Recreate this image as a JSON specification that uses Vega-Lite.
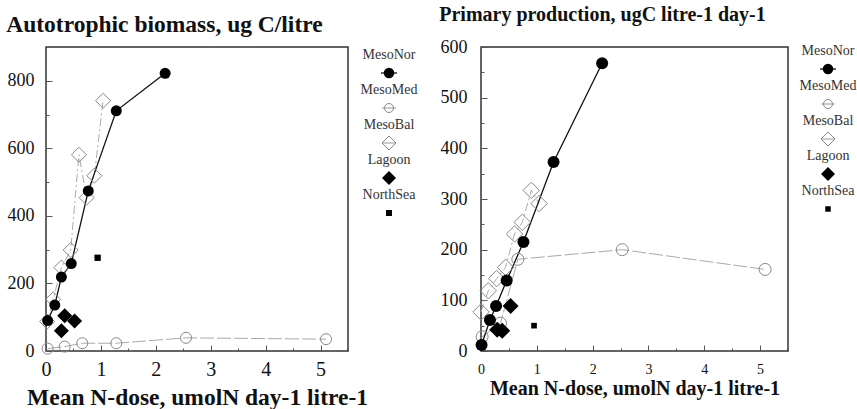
{
  "$schema": "https://vega.github.io/schema/vega-lite/v6.json",
  "background": "white",
  "padding": {"left": 6, "top": 5, "right": 0, "bottom": 0},
  "autosize": {"type": "pad"},
  "config": {
    "font": "Liberation Serif",
    "view": {"stroke": "#333", "strokeWidth": 1.5},
    "axis": {"domain": false, "grid": false, "tickColor": "#555", "labelColor": "#111", "titleColor": "#111", "labelFont": "Liberation Serif", "titleFont": "Liberation Serif", "titleFontWeight": "bold"},
    "title": {"font": "Liberation Serif", "fontWeight": "bold", "color": "#111", "anchor": "start", "frame": "bounds"}
  },
  "datasets": {
    "biomass": [
      {"series": "MesoBal", "dose": 0.02, "value": 87},
      {"series": "MesoBal", "dose": 0.13, "value": 153},
      {"series": "MesoBal", "dose": 0.28, "value": 247},
      {"series": "MesoBal", "dose": 0.45, "value": 299},
      {"series": "MesoBal", "dose": 0.6, "value": 581},
      {"series": "MesoBal", "dose": 0.74, "value": 454},
      {"series": "MesoBal", "dose": 0.88, "value": 519},
      {"series": "MesoBal", "dose": 1.04, "value": 741},
      {"series": "MesoMed", "dose": 0.03, "value": 7},
      {"series": "MesoMed", "dose": 0.34, "value": 13},
      {"series": "MesoMed", "dose": 0.66, "value": 23},
      {"series": "MesoMed", "dose": 1.28, "value": 23},
      {"series": "MesoMed", "dose": 2.55, "value": 39},
      {"series": "MesoMed", "dose": 5.1, "value": 35},
      {"series": "MesoNor", "dose": 0.03, "value": 90},
      {"series": "MesoNor", "dose": 0.16, "value": 136},
      {"series": "MesoNor", "dose": 0.28, "value": 219},
      {"series": "MesoNor", "dose": 0.46, "value": 259},
      {"series": "MesoNor", "dose": 0.77, "value": 474},
      {"series": "MesoNor", "dose": 1.28, "value": 711},
      {"series": "MesoNor", "dose": 2.17, "value": 822},
      {"series": "Lagoon", "dose": 0.28, "value": 60},
      {"series": "Lagoon", "dose": 0.34, "value": 104},
      {"series": "Lagoon", "dose": 0.52, "value": 89},
      {"series": "NorthSea", "dose": 0.94, "value": 276}
    ],
    "production": [
      {"series": "MesoBal", "dose": 0.0, "value": 77},
      {"series": "MesoBal", "dose": 0.13, "value": 119},
      {"series": "MesoBal", "dose": 0.28, "value": 143},
      {"series": "MesoBal", "dose": 0.44, "value": 165},
      {"series": "MesoBal", "dose": 0.6, "value": 231},
      {"series": "MesoBal", "dose": 0.74, "value": 254},
      {"series": "MesoBal", "dose": 0.9, "value": 317},
      {"series": "MesoBal", "dose": 1.04, "value": 291},
      {"series": "MesoMed", "dose": 0.02, "value": 28},
      {"series": "MesoMed", "dose": 0.35, "value": 55},
      {"series": "MesoMed", "dose": 0.66, "value": 181},
      {"series": "MesoMed", "dose": 2.53, "value": 200},
      {"series": "MesoMed", "dose": 5.09, "value": 161},
      {"series": "MesoNor", "dose": 0.01, "value": 12},
      {"series": "MesoNor", "dose": 0.16, "value": 61},
      {"series": "MesoNor", "dose": 0.27, "value": 89},
      {"series": "MesoNor", "dose": 0.46, "value": 139},
      {"series": "MesoNor", "dose": 0.76, "value": 215},
      {"series": "MesoNor", "dose": 1.3, "value": 373},
      {"series": "MesoNor", "dose": 2.17, "value": 568},
      {"series": "Lagoon", "dose": 0.29, "value": 42},
      {"series": "Lagoon", "dose": 0.38, "value": 40},
      {"series": "Lagoon", "dose": 0.53, "value": 89},
      {"series": "NorthSea", "dose": 0.95, "value": 50}
    ],
    "keys": [
      {"series": "MesoNor"},
      {"series": "MesoMed"},
      {"series": "MesoBal"},
      {"series": "Lagoon"},
      {"series": "NorthSea"}
    ]
  },
  "spacing": 20,
  "hconcat": [
    {
      "title": {"text": "Autotrophic biomass, ug C/litre", "fontSize": 23.5, "offset": 10},
      "bounds": "flush",
      "spacing": 11,
      "hconcat": [
        {
          "width": 302,
          "height": 304,
          "data": {"name": "biomass"},
          "encoding": {
            "x": {
              "field": "dose", "type": "quantitative",
              "scale": {"domain": [0, 5.5], "nice": false, "zero": false},
              "axis": {
                "title": "Mean N-dose, umolN day-1 litre-1", "titleFontSize": 23.5, "titlePadding": 6,
                "values": [0, 0.5, 1, 1.5, 2, 2.5, 3, 3.5, 4, 4.5, 5, 5.5],
                "labelExpr": "datum.value % 1 ? '' : format(datum.value, 'd')",
                "tickSize": {"condition": {"test": "datum.value % 1 !== 0", "value": -3}, "value": -6},
                "labelFontSize": 20, "labelPadding": 14, "labelFlush": false
              }
            },
            "y": {
              "field": "value", "type": "quantitative",
              "scale": {"domain": [0, 900], "nice": false},
              "axis": {
                "title": null,
                "values": [0, 100, 200, 300, 400, 500, 600, 700, 800],
                "labelExpr": "datum.value % 200 ? '' : datum.label",
                "tickSize": {"condition": {"test": "datum.value % 200 !== 0", "value": -3}, "value": -6},
                "labelFontSize": 18, "labelPadding": 18, "labelFlush": false
              }
            }
          },
          "layer": [
            {"transform": [{"filter": "datum.series === 'MesoMed'"}], "mark": {"type": "line", "color": "#aaa", "strokeWidth": 1, "strokeDash": [14, 3]}},
            {"transform": [{"filter": "datum.series === 'MesoBal'"}], "mark": {"type": "line", "color": "#aaa", "strokeWidth": 1, "strokeDash": [8, 3, 2, 3]}},
            {"transform": [{"filter": "datum.series === 'MesoNor'"}], "mark": {"type": "line", "color": "#111", "strokeWidth": 1.3}},
            {"transform": [{"filter": "datum.series === 'MesoMed'"}], "mark": {"type": "point", "shape": "circle", "filled": false, "stroke": "#888", "strokeWidth": 1, "size": 121, "opacity": 1}},
            {"transform": [{"filter": "datum.series === 'MesoBal'"}], "mark": {"type": "point", "shape": "diamond", "filled": false, "stroke": "#888", "strokeWidth": 1, "size": 225, "opacity": 1}},
            {"transform": [{"filter": "datum.series === 'MesoNor'"}], "mark": {"type": "point", "shape": "circle", "filled": true, "color": "#000", "size": 121, "opacity": 1}},
            {"transform": [{"filter": "datum.series === 'Lagoon'"}], "mark": {"type": "point", "shape": "diamond", "filled": true, "color": "#000", "size": 225, "opacity": 1}},
            {"transform": [{"filter": "datum.series === 'NorthSea'"}], "mark": {"type": "point", "shape": "square", "filled": true, "color": "#000", "size": 40, "opacity": 1}}
          ]
        },
        {
          "width": 60,
          "height": 192,
          "view": {"stroke": null},
          "data": {"name": "keys"},
          "encoding": {
            "y": {"field": "series", "type": "nominal", "sort": null, "scale": {"type": "point", "padding": 0.743}, "axis": null}
          },
          "layer": [
            {"transform": [{"filter": "datum.series === 'MesoNor'"}], "mark": {"type": "point", "shape": "M-1,0L1,0", "filled": false, "stroke": "#000", "strokeWidth": 1.2, "size": 256, "opacity": 1}},
            {"transform": [{"filter": "datum.series === 'MesoMed' || datum.series === 'MesoBal'"}], "mark": {"type": "point", "shape": "M-1,0L1,0", "filled": false, "stroke": "#999", "strokeWidth": 1, "size": 196, "opacity": 1}},
            {"transform": [{"filter": "datum.series === 'MesoNor'"}], "mark": {"type": "point", "shape": "circle", "filled": true, "color": "#000", "size": 110, "opacity": 1}},
            {"transform": [{"filter": "datum.series === 'MesoMed'"}], "mark": {"type": "point", "shape": "circle", "filled": false, "stroke": "#888", "strokeWidth": 1, "size": 81, "opacity": 1}},
            {"transform": [{"filter": "datum.series === 'MesoBal'"}], "mark": {"type": "point", "shape": "diamond", "filled": false, "stroke": "#888", "strokeWidth": 1, "size": 196, "opacity": 1}},
            {"transform": [{"filter": "datum.series === 'Lagoon'"}], "mark": {"type": "point", "shape": "diamond", "filled": true, "color": "#000", "size": 196, "opacity": 1}},
            {"transform": [{"filter": "datum.series === 'NorthSea'"}], "mark": {"type": "point", "shape": "square", "filled": true, "color": "#000", "size": 36, "opacity": 1}},
            {"mark": {"type": "text", "dy": -18, "fontSize": 14, "color": "#333", "font": "Liberation Serif"}, "encoding": {"text": {"field": "series"}}}
          ]
        }
      ]
    },
    {
      "title": {"text": "Primary production, ugC litre-1 day-1", "fontSize": 20, "offset": 12},
      "bounds": "flush",
      "spacing": 10,
      "hconcat": [
        {
          "width": 307,
          "height": 304,
          "data": {"name": "production"},
          "encoding": {
            "x": {
              "field": "dose", "type": "quantitative",
              "scale": {"domain": [0, 5.5], "nice": false, "zero": false},
              "axis": {
                "title": "Mean N-dose, umolN day-1 litre-1", "titleFontSize": 20, "titlePadding": 2,
                "values": [0, 0.5, 1, 1.5, 2, 2.5, 3, 3.5, 4, 4.5, 5, 5.5],
                "labelExpr": "datum.value % 1 ? '' : format(datum.value, 'd')",
                "tickSize": {"condition": {"test": "datum.value % 1 !== 0", "value": -3}, "value": -6},
                "labelFontSize": 14, "labelPadding": 17, "labelFlush": false
              }
            },
            "y": {
              "field": "value", "type": "quantitative",
              "scale": {"domain": [0, 600], "nice": false},
              "axis": {
                "title": null,
                "values": [0, 50, 100, 150, 200, 250, 300, 350, 400, 450, 500, 550, 600],
                "labelExpr": "datum.value % 100 ? '' : datum.label",
                "tickSize": {"condition": {"test": "datum.value % 100 !== 0", "value": -3}, "value": -6},
                "labelFontSize": 18, "labelPadding": 20, "labelFlush": false
              }
            }
          },
          "layer": [
            {"transform": [{"filter": "datum.series === 'MesoMed'"}], "mark": {"type": "line", "color": "#aaa", "strokeWidth": 1, "strokeDash": [14, 3]}},
            {"transform": [{"filter": "datum.series === 'MesoBal'"}], "mark": {"type": "line", "color": "#aaa", "strokeWidth": 1, "strokeDash": [8, 3, 2, 3]}},
            {"transform": [{"filter": "datum.series === 'MesoNor'"}], "mark": {"type": "line", "color": "#111", "strokeWidth": 1.3}},
            {"transform": [{"filter": "datum.series === 'MesoMed'"}], "mark": {"type": "point", "shape": "circle", "filled": false, "stroke": "#888", "strokeWidth": 1, "size": 144, "opacity": 1}},
            {"transform": [{"filter": "datum.series === 'MesoBal'"}], "mark": {"type": "point", "shape": "diamond", "filled": false, "stroke": "#888", "strokeWidth": 1, "size": 270, "opacity": 1}},
            {"transform": [{"filter": "datum.series === 'MesoNor'"}], "mark": {"type": "point", "shape": "circle", "filled": true, "color": "#000", "size": 144, "opacity": 1}},
            {"transform": [{"filter": "datum.series === 'Lagoon'"}], "mark": {"type": "point", "shape": "diamond", "filled": true, "color": "#000", "size": 256, "opacity": 1}},
            {"transform": [{"filter": "datum.series === 'NorthSea'"}], "mark": {"type": "point", "shape": "square", "filled": true, "color": "#000", "size": 32, "opacity": 1}}
          ]
        },
        {
          "width": 60,
          "height": 184,
          "view": {"stroke": null},
          "data": {"name": "keys"},
          "encoding": {
            "y": {"field": "series", "type": "nominal", "sort": null, "scale": {"type": "point", "padding": 0.629}, "axis": null}
          },
          "layer": [
            {"transform": [{"filter": "datum.series === 'MesoNor'"}], "mark": {"type": "point", "shape": "M-1,0L1,0", "filled": false, "stroke": "#000", "strokeWidth": 1.2, "size": 256, "opacity": 1}},
            {"transform": [{"filter": "datum.series === 'MesoMed' || datum.series === 'MesoBal'"}], "mark": {"type": "point", "shape": "M-1,0L1,0", "filled": false, "stroke": "#999", "strokeWidth": 1, "size": 196, "opacity": 1}},
            {"transform": [{"filter": "datum.series === 'MesoNor'"}], "mark": {"type": "point", "shape": "circle", "filled": true, "color": "#000", "size": 110, "opacity": 1}},
            {"transform": [{"filter": "datum.series === 'MesoMed'"}], "mark": {"type": "point", "shape": "circle", "filled": false, "stroke": "#888", "strokeWidth": 1, "size": 81, "opacity": 1}},
            {"transform": [{"filter": "datum.series === 'MesoBal'"}], "mark": {"type": "point", "shape": "diamond", "filled": false, "stroke": "#888", "strokeWidth": 1, "size": 196, "opacity": 1}},
            {"transform": [{"filter": "datum.series === 'Lagoon'"}], "mark": {"type": "point", "shape": "diamond", "filled": true, "color": "#000", "size": 196, "opacity": 1}},
            {"transform": [{"filter": "datum.series === 'NorthSea'"}], "mark": {"type": "point", "shape": "square", "filled": true, "color": "#000", "size": 30, "opacity": 1}},
            {"mark": {"type": "text", "dy": -18, "fontSize": 14, "color": "#333", "font": "Liberation Serif"}, "encoding": {"text": {"field": "series"}}}
          ]
        }
      ]
    }
  ]
}
